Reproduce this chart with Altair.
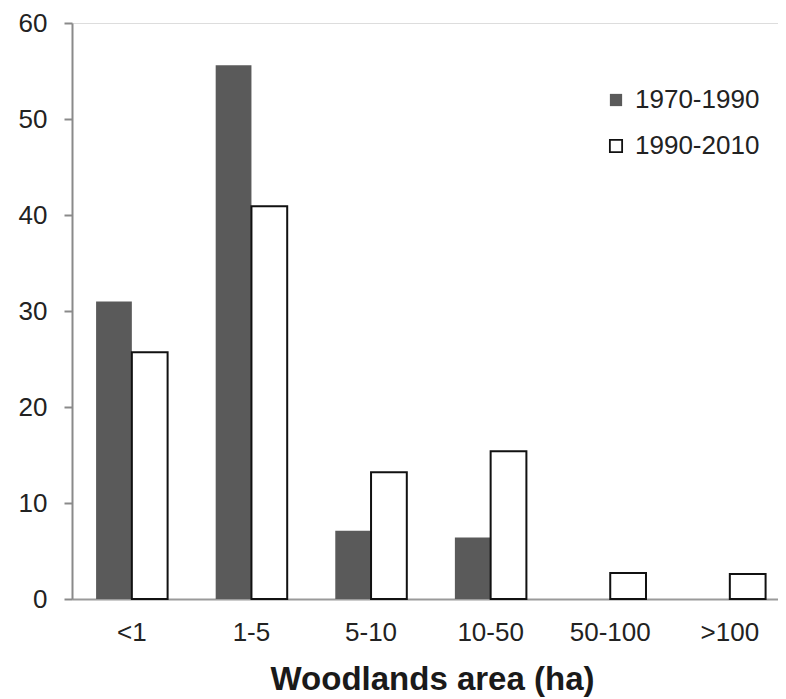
import altair as alt
import pandas as pd

categories = ["<1", "1-5", "5-10", "10-50", "50-100", ">100"]
series_names = ["1970-1990", "1990-2010"]
values_1970_1990 = [31.0, 55.6, 7.1, 6.4, 0.0, 0.0]
values_1990_2010 = [25.7, 40.9, 13.2, 15.4, 2.7, 2.6]
y_ticks = [0, 10, 20, 30, 40, 50, 60]

rows = []
for i, c in enumerate(categories):
    rows.append({"area": c, "period": series_names[0], "value": values_1970_1990[i]})
    rows.append({"area": c, "period": series_names[1], "value": values_1990_2010[i]})
df = pd.DataFrame(rows)

legend_cfg = alt.Legend(
    title=None,
    orient="none",
    legendX=531,
    legendY=64,
    symbolType="square",
    symbolSize=150,
    symbolStrokeWidth=1.8,
    labelFontSize=26,
    labelColor="#222222",
    labelFont="Liberation Sans",
    labelOffset=6,
    rowPadding=20,
    padding=0,
)

chart = (
    alt.Chart(df)
    .mark_bar(strokeWidth=2)
    .encode(
        x=alt.X(
            "area:N",
            sort=categories,
            title="Woodlands area (ha)",
            scale=alt.Scale(paddingInner=0.402, paddingOuter=0.1526, align=0.66, round=False),
            axis=alt.Axis(
                labelAngle=0,
                ticks=False,
                domainColor="#9a9a9a",
                domainWidth=2,
                labelFontSize=26,
                labelColor="#222222",
                labelPadding=20,
                titleFontSize=33,
                titleFontWeight="bold",
                titleColor="#1a1a1a",
                titleBaseline="alphabetic",
                titleX=360,
                titleY=90,
            ),
        ),
        xOffset=alt.XOffset("period:N", sort=series_names),
        y=alt.Y(
            "value:Q",
            scale=alt.Scale(domain=[0, 60], nice=False),
            axis=alt.Axis(
                values=y_ticks,
                title=None,
                grid=False,
                domainColor="#8a8a8a",
                domainWidth=2,
                tickColor="#8a8a8a",
                tickWidth=2,
                tickSize=8,
                labelFontSize=26,
                labelColor="#222222",
                labelPadding=17,
            ),
        ),
        fill=alt.Fill(
            "period:N",
            sort=series_names,
            scale=alt.Scale(domain=series_names, range=["#5a5a5a", "#ffffff"]),
            legend=legend_cfg,
        ),
        stroke=alt.Stroke(
            "period:N",
            sort=series_names,
            scale=alt.Scale(domain=series_names, range=["transparent", "#111111"]),
            legend=legend_cfg,
        ),
    )
    .properties(
        width=706,
        height=576,
        autosize=alt.AutoSizeParams(type="none"),
        padding={"left": 64, "top": 15, "right": 0, "bottom": 100},
        background="white",
    )
    .configure_view(stroke=None)
    .configure(font="Liberation Sans")
)

chart.save("out.html", embed_options={"renderer": "svg", "actions": False})
